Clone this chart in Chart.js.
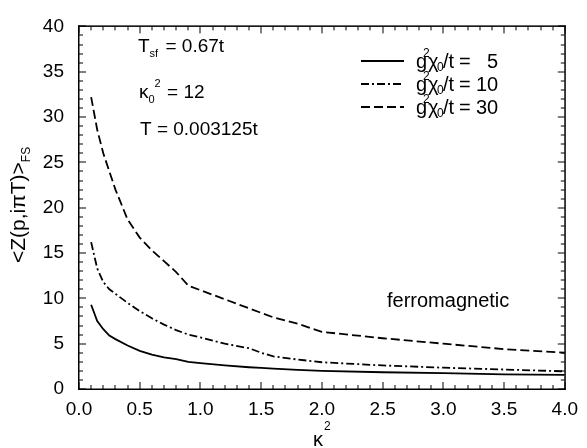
<!DOCTYPE html>
<html>
<head>
<meta charset="utf-8">
<script src="https://cdn.jsdelivr.net/npm/chart.js@4.4.1/dist/chart.umd.min.js"></script>
<style>
html,body{margin:0;padding:0;background:#fff;}
#wrap{width:587px;height:448px;position:relative;}
</style>
</head>
<body>
<div id="wrap"><canvas id="c" width="587" height="448"></canvas></div>
<script>
// kappa^2 sample points
const kappa2 = [0.1,0.15,0.2,0.25,0.3,0.4,0.5,0.6,0.7,0.8,0.9,1.0,1.2,1.4,1.5,1.6,1.8,2.0,2.5,3.0,3.5,4.0];
// <Z(p,i pi T)>_FS for g^2 chi0/t = 5, 10, 30
const z5  = [9.3,7.5,6.6,5.9,5.5,4.8,4.2,3.8,3.5,3.3,3.0,2.85,2.6,2.4,2.32,2.25,2.1,2.0,1.85,1.75,1.62,1.56];
const z10 = [16.2,13.3,11.8,11.0,10.5,9.5,8.6,7.8,7.1,6.5,6.0,5.7,5.0,4.5,4.0,3.6,3.25,2.95,2.6,2.35,2.15,1.95];
const z30 = [32.2,28.6,26.0,24.0,22.0,18.7,16.7,15.3,14.1,12.9,11.4,10.9,9.9,8.9,8.4,7.9,7.2,6.3,5.6,5.0,4.4,4.0];
const seriesLabels = ["5","10","30"];
const xTicksStep = 0.5, yTicksStep = 5;

const FONT = "'Liberation Sans', Arial, Helvetica, sans-serif";
function pts(ys){ return kappa2.map((x,i)=>({x:x,y:ys[i]})); }

const framePlugin = {
  id:'frame',
  afterDraw(chart){
    const ctx = chart.ctx;
    const xs = chart.scales.x, ys = chart.scales.y;
    const L0 = xs.left, R0 = xs.right, T0 = ys.top, B0 = ys.bottom;
    ctx.save();
    ctx.globalAlpha = 1;
    ctx.globalCompositeOperation = 'source-over';
    ctx.fillStyle = '#000';
    // frame
    ctx.fillRect(L0-1, T0-1, R0-L0+2, 1.5);
    ctx.fillRect(L0-1, B0-0.5, R0-L0+2, 1.5);
    ctx.fillRect(L0-1, T0-1, 1.5, B0-T0+2);
    ctx.fillRect(R0-0.5, T0-1, 1.5, B0-T0+2);
    // x ticks (minor every 0.1, major every 0.5)
    for(let i=0;i<=40;i++){
      const px=Math.round(xs.getPixelForValue(i/10));
      const L = (i%5===0)?7:4;
      ctx.fillRect(px-0.5, B0-L, 1, L);
      ctx.fillRect(px-0.5, T0, 1, L);
    }
    // y ticks (minor every 1, major every 5)
    for(let i=0;i<=40;i++){
      const py=Math.round(ys.getPixelForValue(i));
      const L = (i%5===0)?7:4;
      ctx.fillRect(L0, py-0.5, L, 1);
      ctx.fillRect(R0-L, py-0.5, L, 1);
    }
    ctx.textBaseline='alphabetic';
    ctx.textAlign='left';
    const F = s => s+"px "+FONT;
    function seq(x,y,parts){
      for(const p of parts){
        ctx.font = F(p[1]);
        ctx.fillText(p[0], x, y+(p[2]||0));
        x += ctx.measureText(p[0]).width + (p[3]||0);
      }
      return x;
    }
    // annotations
    seq(138,52,[["T",19],["sf",11,5,2],[" = 0.67t",19]]);
    seq(139,98,[["κ",19],["0",11,5],["2",11,-11,1],[" = 12",19]]);
    seq(140,135,[["T = 0.003125t",19]]);
    seq(387,307,[["ferromagnetic",20]]);
    // legend
    const lineY=[61,84,107], textY=[68,91,114];
    chart.data.datasets.forEach((ds,i)=>{
      ctx.save();
      ctx.strokeStyle='#000';
      ctx.lineWidth=ds.borderWidth;
      ctx.setLineDash(ds.borderDash||[]);
      ctx.beginPath(); ctx.moveTo(361,lineY[i]); ctx.lineTo(404,lineY[i]); ctx.stroke();
      ctx.restore();
      const y=textY[i];
      ctx.font=F(20); ctx.fillText("g",416,y);
      ctx.font=F(12); ctx.fillText("2",423,y-11);
      ctx.font=F(20); ctx.fillText("χ",428,y);
      ctx.font=F(12); ctx.fillText("0",437,y+3);
      ctx.font=F(20); ctx.fillText("/t",443,y);
      ctx.fillText("=",459,y);
      const v=seriesLabels[i];
      ctx.fillText(v, v.length===1?487:476, y);
    });
    // x axis title
    ctx.font=F(20); ctx.fillText("κ",313,446);
    ctx.font=F(12); ctx.fillText("2",324,430);
    // y axis title rotated
    ctx.save();
    ctx.translate(25,263);
    ctx.rotate(-Math.PI/2);
    let x2 = seq(0,0,[["<Z(p,iπT)>",21]]);
    ctx.font=F(12); ctx.fillText("FS",x2,5);
    ctx.restore();
    ctx.restore();
  }
};

new Chart(document.getElementById('c'),{
  type:'line',
  data:{datasets:[
    {data:pts(z5), borderColor:'#000', borderWidth:1.8, borderDash:[], pointRadius:0, tension:0, fill:false},
    {data:pts(z10), borderColor:'#000', borderWidth:1.8, borderDash:[8,3,2,3], pointRadius:0, tension:0, fill:false},
    {data:pts(z30), borderColor:'#000', borderWidth:1.8, borderDash:[9,4], pointRadius:0, tension:0, fill:false}
  ]},
  options:{
    responsive:false, animation:false,
    layout:{padding:{left:0,right:16,top:14,bottom:0}},
    plugins:{legend:{display:false}, tooltip:{enabled:false}},
    scales:{
      x:{type:'linear', min:0, max:4,
        grid:{display:false, drawTicks:false}, border:{display:false},
        ticks:{stepSize:xTicksStep, padding:9, color:'#000', maxRotation:0,
          font:{family:FONT,size:19}, callback:v=>Number(v).toFixed(1)},
        afterFit:s=>{s.height=59;}},
      y:{type:'linear', min:0, max:40,
        grid:{display:false, drawTicks:false}, border:{display:false},
        ticks:{stepSize:yTicksStep, padding:15, color:'#000',
          font:{family:FONT,size:19}},
        afterFit:s=>{s.width=79;}}
    }
  },
  plugins:[framePlugin]
});
</script>
</body>
</html>
